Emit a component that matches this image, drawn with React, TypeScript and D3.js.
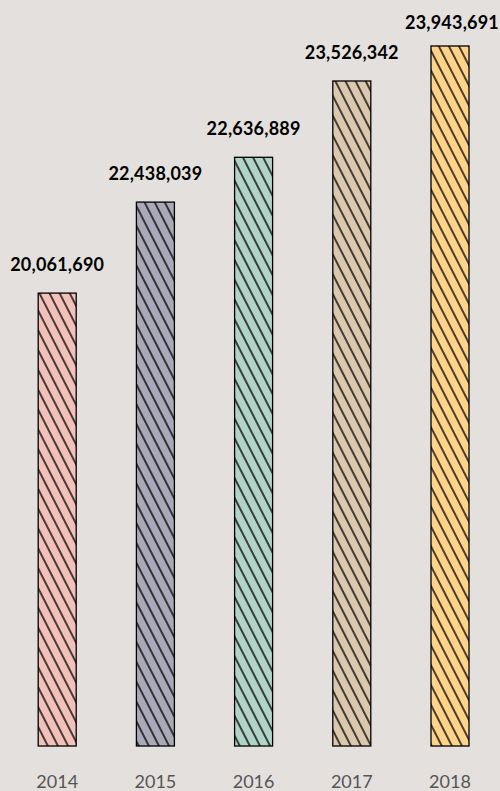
import React, { useEffect } from "react";
import * as d3 from "d3";

const years = ["2014", "2015", "2016", "2017", "2018"];
const values = [20061690, 22438039, 22636889, 23526342, 23943691];
const colors = ["#f2c1b9", "#a9a9b9", "#b2d3c7", "#dbc8ae", "#ffd48a"];
// The reference's bar heights are not proportional to the values; this
// piecewise scale reproduces the drawn heights (share of the plot height).
const heightShare = [0.647, 0.777, 0.841, 0.95, 1.0];

const W = 500;
const H = 791;
const baseline = 746;
const plotTop = 46;
const barW = 38;

export default function App() {
  useEffect(() => {
    document.body.style.margin = "0";
    document.body.style.background = "#e4e0dd";
  }, []);

  const x = d3.scalePoint<string>().domain(years).range([57.2, 450]);
  const share = d3.scaleLinear().domain(values).range(heightShare);
  const y = (v: number) => baseline - share(v) * (baseline - plotTop);
  const fmt = d3.format(",");

  return (
    <svg width={W} height={H} style={{ display: "block", background: "#e4e0dd" }}>
      <defs>
        {colors.map((c, i) => (
          <pattern
            key={i}
            id={`hatch${i}`}
            patternUnits="userSpaceOnUse"
            width={9}
            height={9}
            patternTransform="rotate(-27)"
          >
            <rect width={9} height={9} fill={c} />
            <line x1={1} y1={0} x2={1} y2={9} stroke="#000" strokeWidth={1.4} />
          </pattern>
        ))}
      </defs>
      {years.map((yr, i) => {
        const cx = x(yr)!;
        const top = y(values[i]);
        const labelY = Math.max(top - 22, 29);
        return (
          <g key={yr}>
            <rect
              x={cx - barW / 2}
              y={top}
              width={barW}
              height={baseline - top}
              fill={`url(#hatch${i})`}
              stroke="#000"
              strokeWidth={1.3}
            />
            <text
              x={cx + (i === 4 ? 2 : 0)}
              y={labelY}
              textAnchor="middle"
              fontFamily="Lato, 'Noto Sans', sans-serif"
              fontWeight={700}
              fontSize={18}
              letterSpacing={0.2}
              fill="#000"
            >
              {fmt(values[i])}
            </text>
            <text
              x={cx}
              y={788}
              textAnchor="middle"
              fontFamily="Lato, 'Noto Sans', sans-serif"
              fontWeight={400}
              fontSize={18}
              fill="#555"
            >
              {yr}
            </text>
          </g>
        );
      })}
    </svg>
  );
}
